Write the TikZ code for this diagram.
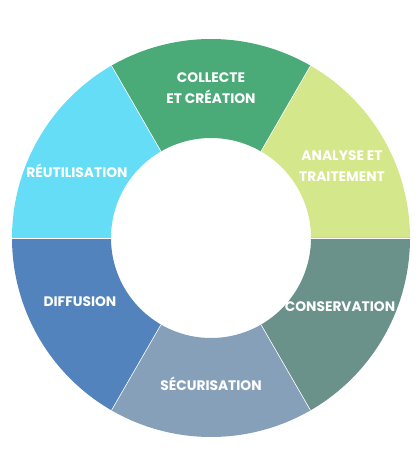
\documentclass[tikz,border=0pt]{standalone}
\usepackage{fontspec}
\setmainfont{Poppins}
\definecolor{cgreen}{HTML}{4AAB78}
\definecolor{clime}{HTML}{D4E78A}
\definecolor{cteal}{HTML}{6A918A}
\definecolor{cgblue}{HTML}{86A0BA}
\definecolor{cblue}{HTML}{5283BD}
\definecolor{ccyan}{HTML}{65DDF6}
\begin{document}
\begin{tikzpicture}[x=1pt,y=1pt,
  seg/.style={draw=white,line width=0.6pt},
  lbl/.style={text=white,font=\bfseries\fontsize{13.8}{21}\selectfont,align=center,inner sep=0pt}]
\useasboundingbox (0,0) rectangle (418,469);
\coordinate (c) at (211,231);
\def\Ro{199}\def\Ri{100}
\foreach \a/\col in {60/cgreen,0/clime,-60/cteal,-120/cgblue,180/cblue,120/ccyan}{
  \fill[\col] ([shift={(\a:\Ro)}]c) arc[start angle=\a,delta angle=60,radius=\Ro]
     -- ([shift={(\a+60:\Ri)}]c) arc[start angle=\a+60,delta angle=-60,radius=\Ri] -- cycle;
}
\foreach \a in {0,60,120,180,240,300}{
  \draw[seg] ([shift={(\a:\Ri)}]c) -- ([shift={(\a:\Ro)}]c);
}
\node[lbl] (t1) at (211,381) {COLLECTE\\ET CRÉATION};
\node[lbl] (t2) at (342,303) {ANALYSE ET\\TRAITEMENT};
\node[lbl] (t3) at (340,162) {CONSERVATION};
\node[lbl] (t4) at (211,85) {SÉCURISATION};
\node[lbl] (t5) at (80,167) {DIFFUSION};
\node[lbl] (t6) at (77,298) {RÉUTILISATION};
\end{tikzpicture}
\end{document}
